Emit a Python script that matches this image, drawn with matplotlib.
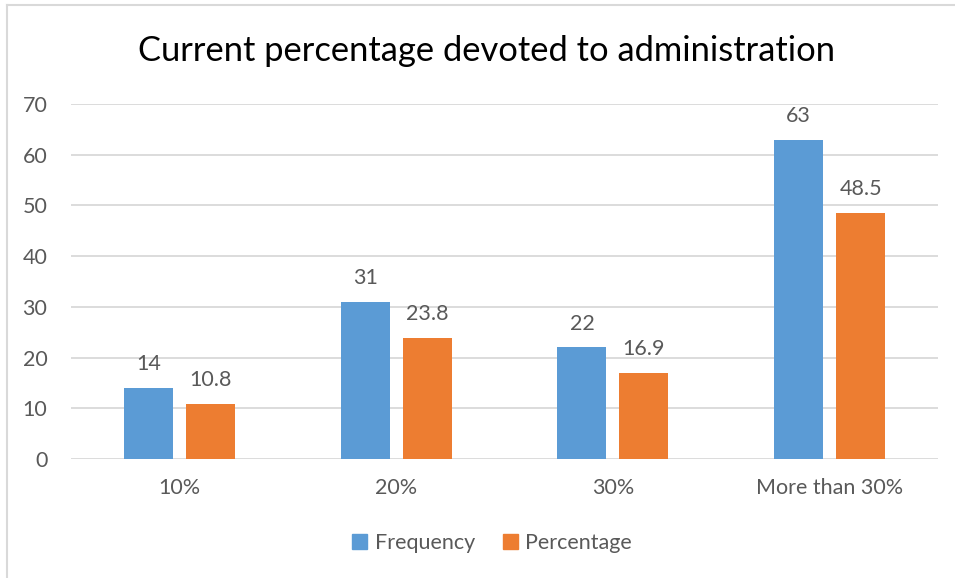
import matplotlib
matplotlib.use("Agg")
import matplotlib.pyplot as plt
import numpy as np
from matplotlib.lines import Line2D
from matplotlib.patches import Patch

categories = ["10%", "20%", "30%", "More than 30%"]
frequency = [14, 31, 22, 63]
percentage = [10.8, 23.8, 16.9, 48.5]
freq_labels = ["14", "31", "22", "63"]
pct_labels = ["10.8", "23.8", "16.9", "48.5"]
yticks = [0, 10, 20, 30, 40, 50, 60, 70]

plt.rcParams['font.family'] = ['Lato', 'DejaVu Sans']
TXT = '#595959'
BLUE = '#5B9BD5'
ORANGE = '#ED7D31'
GRID = '#D9D9D9'
FS = 15.5

fig = plt.figure(figsize=(9.55, 5.78), dpi=100)
ax = fig.add_axes([71/955, 1-459/578, (938-71)/955, (459-104)/578])

x = np.arange(len(categories))
w = 0.226
off = 0.143
b1 = ax.bar(x - off, frequency, w, color=BLUE, zorder=3)
b2 = ax.bar(x + off, percentage, w, color=ORANGE, zorder=3)
ax.bar_label(b1, labels=freq_labels, padding=10, color=TXT, fontsize=FS)
ax.bar_label(b2, labels=pct_labels, padding=10, color=TXT, fontsize=FS)

ax.set_xlim(-0.5, len(categories) - 0.5)
ax.set_ylim(0, 70)
ax.set_yticks(yticks)
ax.set_yticklabels([str(v) for v in yticks], color=TXT, fontsize=FS)
ax.set_xticks(x)
ax.set_xticklabels(categories, color=TXT, fontsize=FS)
ax.tick_params(axis='both', length=0)
ax.tick_params(axis='y', pad=17)
ax.tick_params(axis='x', pad=14)
ax.grid(axis='y', color=GRID, linewidth=1.3, zorder=0)
for s in ax.spines.values():
    s.set_visible(False)

fig.text(486/955, 1-51/578, "Current percentage devoted to administration",
         ha='center', va='center', fontsize=24.8, color='black')

handles = [Patch(color=BLUE, label='Frequency'), Patch(color=ORANGE, label='Percentage')]
fig.legend(handles=handles, loc='center', bbox_to_anchor=(492/955, 1-543/578),
           ncol=2, frameon=False, fontsize=FS, labelcolor=TXT,
           handlelength=0.7, handleheight=0.7, handletextpad=0.35, columnspacing=1.3)

fig.add_artist(Line2D([7/955, 7/955], [0, 1-5/578], color=GRID, linewidth=1.5, transform=fig.transFigure))
fig.add_artist(Line2D([7/955, 1], [1-5/578, 1-5/578], color=GRID, linewidth=1.5, transform=fig.transFigure))

fig.savefig("out.png", dpi=100)
